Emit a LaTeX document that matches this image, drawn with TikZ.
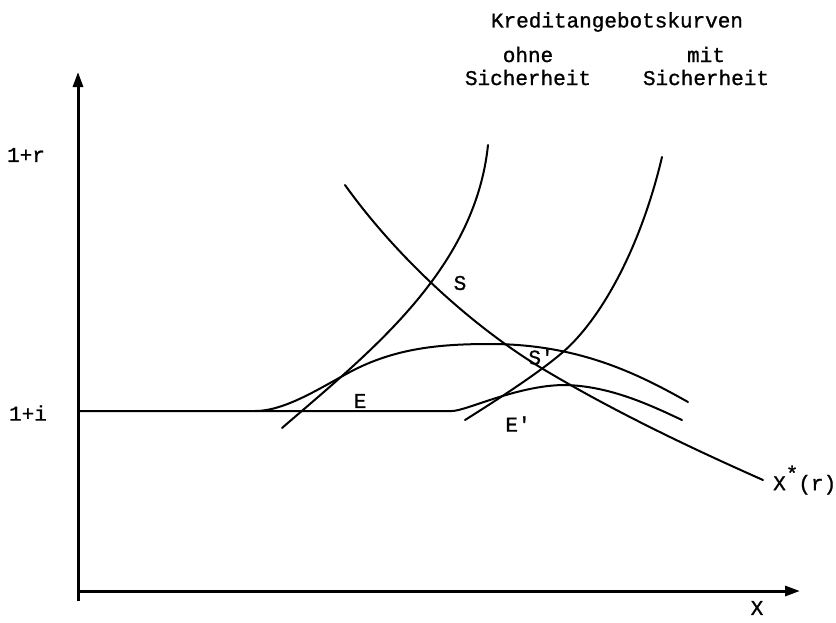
\documentclass[tikz,border=0pt]{standalone}
\usepackage{fontspec}
\newfontfamily\tw[FakeBold=1]{Liberation Mono}
\usetikzlibrary{arrows.meta}
\tikzset{
  axis/.style={line width=3pt,-{Triangle[length=15pt,width=10pt]}},
  curve/.style={line width=2pt,line cap=round,line join=round},
  lbl/.style={font=\tw\fontsize{21}{23}\selectfont,inner sep=0pt,align=center}
}
\begin{document}
\begin{tikzpicture}[x=1pt,y=-1pt]
\useasboundingbox (0,0) rectangle (836,622);
% axes
\coordinate (Ybot) at (78,601);
\coordinate (O) at (78,591);
\coordinate (Ytop) at (78,72);
\coordinate (Xend) at (800,591);
\draw[axis] (Ybot) -- (Ytop);
\draw[axis] (O) -- (Xend);
% horizontal line 1+i and lower hump (E')
\draw[curve] (78,411) -- (452,411) .. controls (466,411) and (518,385) .. (565,385)
   .. controls (610,386) and (650,405) .. (682,420);
% upper hump (E)
\draw[curve] (255,411) .. controls (285,411) and (320,388) .. (350,372)
   .. controls (395,348) and (440,344) .. (490,344)
   .. controls (580,344) and (640,375) .. (688,402);
% supply curve without collateral
\draw[curve] (282,428) .. controls (370,352) and (475,270) .. (488,145);
% supply curve with collateral
\draw[curve] (465,420) .. controls (500,398) and (540,372) .. (563,352)
   .. controls (600,320) and (640,250) .. (662,157);
% demand x*(r)
\draw[curve] (345,185) .. controls (395,255) and (470,325) .. (543,369)
   .. controls (620,415) and (700,452) .. (763,480);
% labels
\node[lbl] (title) at (617,22) {Kreditangebotskurven};
\node[lbl] (ohne) at (528,66) {ohne\\Sicherheit};
\node[lbl] (mit) at (706,66) {mit\\Sicherheit};
\node[lbl] (r) at (26,155) {1+r};
\node[lbl] (i) at (28,413) {1+i};
\node[lbl] (xlab) at (757,608) {X};
\node[lbl,anchor=west] (xstar) at (773,480) {X\raisebox{0.45em}{*}(r)};
\node[lbl] (S) at (460,283) {S};
\node[lbl] (Sp) at (541,357) {S'};
\node[lbl] (E) at (360,401) {E};
\node[lbl] (Ep) at (518,424) {E'};
\end{tikzpicture}
\end{document}
